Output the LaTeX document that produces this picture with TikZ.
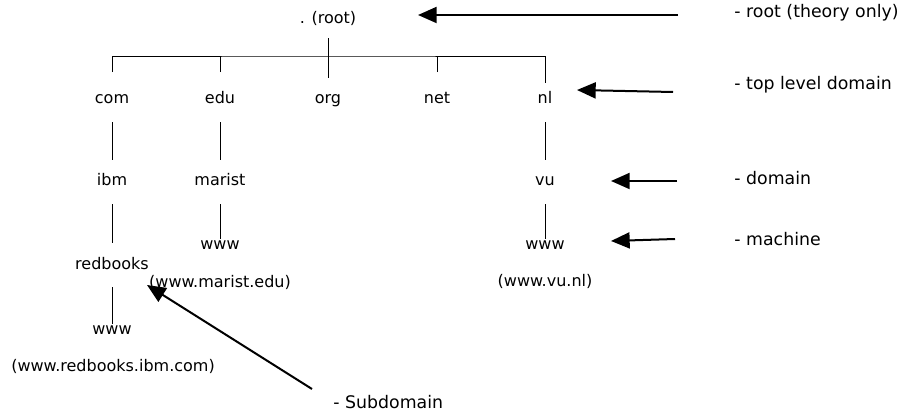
\documentclass[tikz,border=0pt]{standalone}
\usepackage{fontspec}
\setmainfont{DejaVu Sans}
\usetikzlibrary{arrows.meta}

\begin{document}
\begin{tikzpicture}[x=0.75pt,y=-0.75pt,line width=0.7pt,
  txt/.style={inner sep=0pt,text height=9pt,text depth=3pt,font=\fontsize{12}{14}\selectfont},
  dom/.style={txt,minimum height=33pt},
  leaf/.style={txt,minimum height=9pt,text height=6.5pt,text depth=0pt},
  note/.style={txt,anchor=west,font=\fontsize{13}{15}\selectfont},
  pointer/.style={line width=1.5pt,-{Triangle[length=14pt,width=12pt]}}]
\useasboundingbox (0,0) rectangle (920,413);
% tree
\node[dom] (root) at (328,20) {. (root)};
\node[dom] (com) at (112,100) {com};
\node[dom] (edu) at (220,100) {edu};
\node[dom] (org) at (328,100) {org};
\node[dom] (net) at (437,100) {net};
\node[dom] (nl) at (545,100) {nl};
\node[dom] (ibm) at (112,182) {ibm};
\node[dom] (marist) at (220,182) {marist};
\node[dom] (vu) at (545,182) {vu};
\node[dom] (redbooks) at (112,265) {redbooks};
\node[leaf] (mwww) at (220,245) {www};
\node[leaf] (vwww) at (545,245) {www};
\node[leaf] (rwww) at (112,330) {www};
\node[txt] (mname) at (220,283) {(www.marist.edu)};
\node[txt] (vname) at (545,282) {(www.vu.nl)};
\node[txt] (rname) at (113,367) {(www.redbooks.ibm.com)};
\coordinate (bar) at (328,56);
\draw[shorten <=-3pt] (root) -- (org);
\draw[shorten <=4pt] (com.north) |- (bar) -| ([yshift=-4pt]nl.north);
\draw[shorten <=4pt] (edu.north) -- (edu.north |- bar);
\draw[shorten <=4pt] (net.north) -- (net.north |- bar);
\draw (com) -- (ibm);
\draw (edu) -- (marist);
\draw (nl) -- (vu);
\draw (ibm) -- (redbooks);
\draw (marist) -- (mwww);
\draw (vu) -- (vwww);
\draw (redbooks) -- (rwww);
% notes
\node[note] (nroot) at (734,14) {- root (theory only)};
\node[note] (ntld) at (734,86) {- top level domain};
\node[note] (ndom) at (734,181) {- domain};
\node[note] (nmach) at (734,242) {- machine};
\node[note] (nsub) at (333,404) {- Subdomain};
\coordinate (rt) at (678,15);
\coordinate (rh) at (418,15);
\coordinate (tt) at (673,92);
\coordinate (th) at (577,90);
\coordinate (dt) at (677,181);
\coordinate (dh) at (611,181);
\coordinate (mt) at (675,239);
\coordinate (mh) at (611,241);
\coordinate (st) at (312,389);
\coordinate (sh) at (147,285);
\draw[pointer] (rt) -- (rh);
\draw[pointer] (tt) -- (th);
\draw[pointer] (dt) -- (dh);
\draw[pointer] (mt) -- (mh);
\draw[pointer] (st) -- (sh);
\end{tikzpicture}
\end{document}
